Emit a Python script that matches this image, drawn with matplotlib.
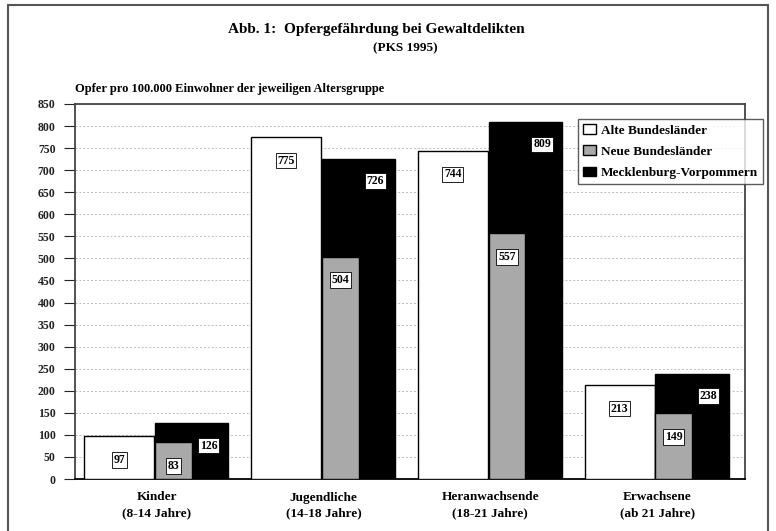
import numpy as np
import matplotlib
matplotlib.use("Agg")
import matplotlib.pyplot as plt
from matplotlib.patches import Rectangle

# Daten (PKS 1995)
kategorien = ["Kinder\n(8-14 Jahre)", "Jugendliche\n(14-18 Jahre)",
              "Heranwachsende\n(18-21 Jahre)", "Erwachsene\n(ab 21 Jahre)"]
alte_laender = [97, 775, 744, 213]
neue_laender = [83, 504, 557, 149]
meck_vorp = [126, 726, 809, 238]
serien = ["Alte Bundesländer", "Neue Bundesländer", "Mecklenburg-Vorpommern"]

plt.rcParams['font.family'] = ['Liberation Serif', 'DejaVu Serif']
plt.rcParams['font.weight'] = 'bold'

fig = plt.figure(figsize=(7.76, 5.31), dpi=100)
ax = fig.add_axes([75/776, 1-479/531, (745-75)/776, (479-104)/531])

x = np.arange(len(kategorien))
grau = '#a9a9a9'

# weisse Balken links, schwarze hinten rechts, graue davor
b1 = ax.bar(x - 0.225, alte_laender, width=0.42, color='white', edgecolor='black', lw=1.0, zorder=3)
b3 = ax.bar(x + 0.21, meck_vorp, width=0.44, color='black', edgecolor='black', lw=1.0, zorder=3)
b2 = ax.bar(x + 0.10, neue_laender, width=0.22, color=grau, edgecolor='black', lw=1.0, zorder=4)

box = dict(boxstyle='square,pad=0.15', fc='white', ec='black', lw=0.6)
for i in range(len(kategorien)):
    ax.annotate(str(alte_laender[i]), (x[i] - 0.225, alte_laender[i]), xytext=(0, -17),
                textcoords='offset points', ha='center', va='center', fontsize=8.5, bbox=box, zorder=6)
    ax.annotate(str(neue_laender[i]), (x[i] + 0.10, neue_laender[i]), xytext=(0, -17),
                textcoords='offset points', ha='center', va='center', fontsize=8.5, bbox=box, zorder=6)
    ax.annotate(str(meck_vorp[i]), (x[i] + 0.31, meck_vorp[i]), xytext=(0, -16),
                textcoords='offset points', ha='center', va='center', fontsize=8.5, bbox=box, zorder=6)

ax.set_xlim(-0.49, 3.527)
ax.set_ylim(0, 850)
ax.set_yticks(np.arange(0, 851, 50))
ax.yaxis.grid(True, linestyle=(0, (2, 2)), color='#bbbbbb', lw=0.7, zorder=0)
ax.tick_params(axis='y', length=8, width=0.8, labelsize=8.5, pad=6, colors='#222222')
ax.set_xticks(x)
ax.set_xticklabels(kategorien, fontsize=9.5, linespacing=1.4)
ax.tick_params(axis='x', length=0, pad=9)
for s in ax.spines.values():
    s.set_color('#444444')
    s.set_linewidth(1.3)
ax.spines['bottom'].set_color('black')

fig.text(376/776, 1-30/531, "Abb. 1:  Opfergefährdung bei Gewaltdelikten", ha='center', va='center', fontsize=11)
fig.text(405/776, 1-48/531, "(PKS 1995)", ha='center', va='center', fontsize=9.5)
fig.text(75/776, 1-89/531, "Opfer pro 100.000 Einwohner der jeweiligen Altersgruppe", ha='left', va='center', fontsize=9)

leg = ax.legend([b1, b2, b3], serien, loc='upper right', bbox_to_anchor=(763/776, 1-119/531),
                bbox_transform=fig.transFigure, fontsize=9.5, frameon=True, fancybox=False,
                handlelength=1.0, handleheight=0.7, handletextpad=0.35, labelspacing=0.68,
                borderpad=0.4, borderaxespad=0)
leg.get_frame().set_edgecolor('#333333')
leg.get_frame().set_linewidth(1.0)
leg.set_zorder(10)

# Rahmen um die ganze Abbildung
fig.patches.append(Rectangle((8/776, -0.05), 760/776, 1.05 - 5/531, transform=fig.transFigure,
                             fill=False, ec='#555555', lw=1.5))

fig.savefig("out.png", dpi=100)
